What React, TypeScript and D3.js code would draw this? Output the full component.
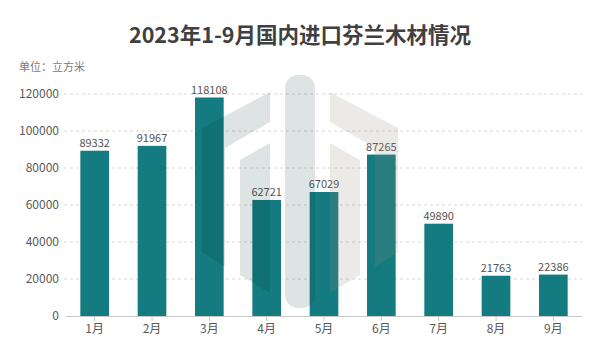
import React from "react";
import * as d3 from "d3";

const months = ["1月", "2月", "3月", "4月", "5月", "6月", "7月", "8月", "9月"];
const volumes = [89332, 91967, 118108, 62721, 67029, 87265, 49890, 21763, 22386];
const yTicks = [0, 20000, 40000, 60000, 80000, 100000, 120000];
const title = "2023年1-9月国内进口芬兰木材情况";
const unitLabel = "单位：立方米";

const W = 600;
const H = 359;
const FONT = "'Noto Sans CJK SC', 'Noto Sans', sans-serif";

export default function App() {
  const x = d3.scaleBand<string>().domain(months).range([66, 582]).paddingInner(0.5).paddingOuter(0.25);
  const y = d3.scaleLinear().domain([0, 120000]).range([316, 94]);
  const barColor = "#147b80";

  return (
    <svg width={W} height={H} style={{ position: "absolute", left: 0, top: 0, background: "#fff" }} fontFamily={FONT}>
      <rect x={0} y={0} width={W} height={H} fill="#fff" />
      <text x={300} y={43} textAnchor="middle" fontSize={21.5} fontWeight="bold" fill="#404040">{title}</text>
      <text x={19} y={71} fontSize={11} fill="#7a7a7a">{unitLabel}</text>

      {yTicks.map((t) => (
        <g key={t}>
          {t > 0 && (
            <line x1={64} x2={582} y1={y(t)} y2={y(t)} stroke="#d6d6d6" strokeDasharray="3,3" strokeWidth={1} />
          )}
          <text x={59} y={y(t)} dy="0.35em" textAnchor="end" fontSize={12} fill="#595959">{t}</text>
        </g>
      ))}

      {months.map((m, i) => (
        <g key={m}>
          <rect x={x(m)} y={y(volumes[i])} width={x.bandwidth()} height={y(0) - y(volumes[i])} fill={barColor} />
          <text x={(x(m) as number) + x.bandwidth() / 2} y={y(volumes[i]) - 4} textAnchor="middle" fontSize={11} fill="#555">{volumes[i]}</text>
        </g>
      ))}

      {/* watermark */}
      <g>
        <g fill="#002828" fillOpacity={0.13}>
          <rect x={285} y={75} width={30} height={233} rx={13} />
          <path d="M270,92 L270,122 L225,148 L225,267 L202,252 L202,128 Z" />
          <path d="M270,143 L270,293 L240,275 L240,160 Z" />
        </g>
        <g fill="#968c78" fillOpacity={0.18}>
          <path d="M330,92 L330,122 L375,148 L375,267 L398,252 L398,128 Z" />
          <path d="M330,143 L330,293 L360,275 L360,160 Z" />
        </g>
      </g>

      <line x1={66} x2={582} y1={316.5} y2={316.5} stroke="#c8c8c8" strokeWidth={1} />
      {months.map((m) => {
        const cx = (x(m) as number) + x.bandwidth() / 2;
        return (
          <g key={"t" + m}>
            <line x1={cx} x2={cx} y1={316.5} y2={321} stroke="#c8c8c8" />
            <text x={cx} y={329} dy="0.35em" textAnchor="middle" fontSize={12} fill="#595959">{m}</text>
          </g>
        );
      })}
    </svg>
  );
}
